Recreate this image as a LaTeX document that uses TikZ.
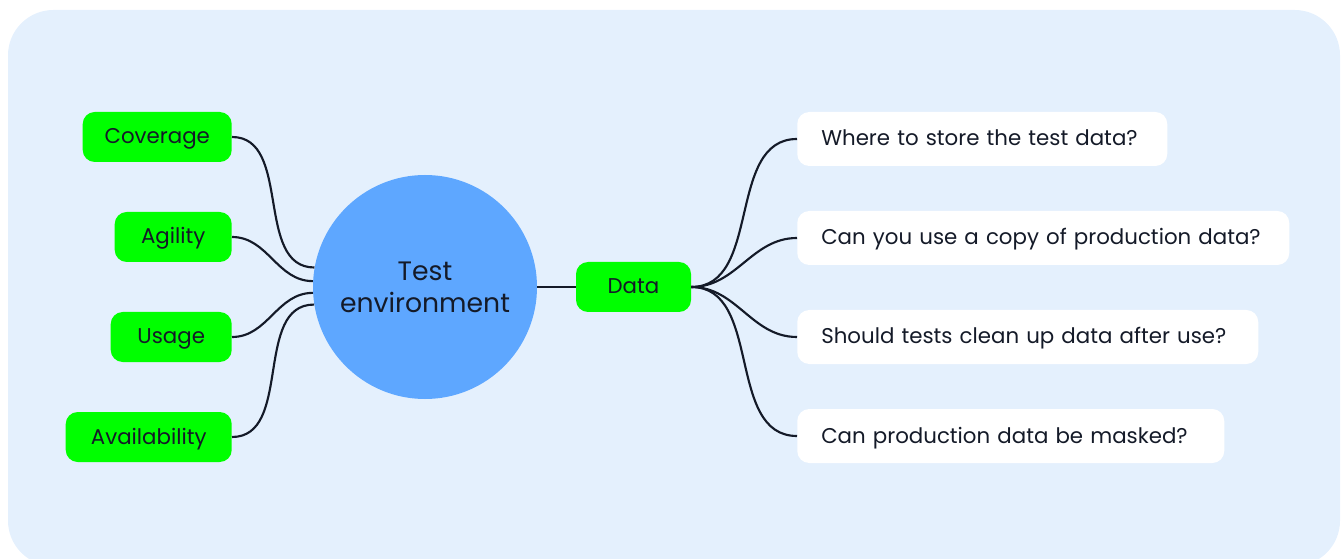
\documentclass[tikz,border=0pt]{standalone}
\usepackage{fontspec}
\setmainfont{Poppins}
\usepackage{xcolor}
\usetikzlibrary{positioning}

\definecolor{panel}{HTML}{E4F0FD}
\definecolor{hub}{HTML}{5EA7FF}
\definecolor{leaf}{HTML}{00FF00}
\definecolor{ink}{HTML}{141A28}

\begin{document}
\begin{tikzpicture}[x=0.75pt,y=-0.75pt,
  branch/.style={fill=leaf, rounded corners=9pt, minimum height=37.5pt,
    inner sep=0pt, text height=1.05em, text depth=0pt, text=ink,
    font=\fontsize{16}{19}\selectfont},
  question/.style={fill=white, rounded corners=9pt, minimum height=40.5pt,
    inner xsep=18pt, inner ysep=0pt, text height=1.05em, text depth=0pt,
    align=left, anchor=west, text=ink, font=\fontsize{16}{19}\selectfont},
  link/.style={draw=ink, line width=1.6pt, out=0, in=180}]
  \useasboundingbox (0,0) rectangle (1341,559);
  \fill[panel, rounded corners=34pt] (8,10) rectangle (1340,566);

  % hub and its branches
  \node[circle, fill=hub, minimum size=168pt, inner sep=0pt, align=center,
    text=ink, font=\fontsize{20}{24}\selectfont] (env) at (425,287) {Test\\environment};

  \node[branch, anchor=east, minimum width=111.75pt] (cov)   at (232,137) {Coverage};
  \node[branch, anchor=east, minimum width=87.75pt]  (agi)   at (232,237) {Agility};
  \node[branch, anchor=east, minimum width=90.75pt]  (usage) at (232,337) {Usage};
  \node[branch, anchor=east, minimum width=124.5pt]  (avail) at (232,437) {Availability};
  \node[branch, minimum width=86.25pt] (data) at (633.5,287) {Data};

  % questions about data
  \node[question, text width=241.5pt] (q1) at (797,139) {Where to store the test data?};
  \node[question, text width=333pt]   (q2) at (797,238) {Can you use a copy of production data?};
  \node[question, text width=309.75pt](q3) at (797,337) {Should tests clean up data after use?};
  \node[question, text width=284.25pt](q4) at (797,436) {Can production data be masked?};

  \draw[link] (cov.east)   to (env.170);
  \draw[link] (agi.east)   to (env.177);
  \draw[link] (usage.east) to (env.183);
  \draw[link] (avail.east) to (env.189);

  \draw[ink, line width=1.6pt] (env.east) -- (data.west);

  \draw[link] (data.east) to (q1.west);
  \draw[link] (data.east) to (q2.west);
  \draw[link] (data.east) to (q3.west);
  \draw[link] (data.east) to (q4.west);
\end{tikzpicture}
\end{document}
